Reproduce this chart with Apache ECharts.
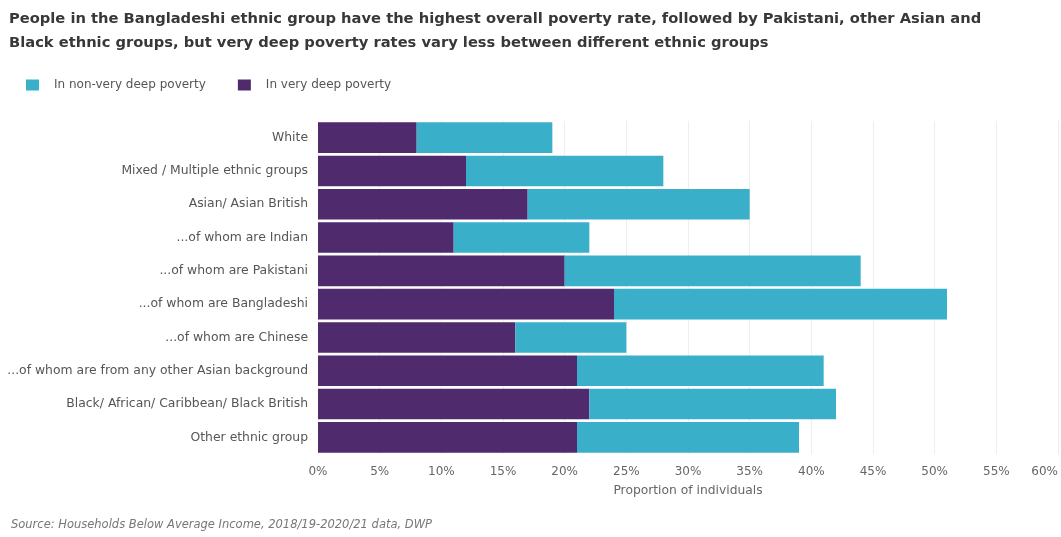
<!DOCTYPE html>
<html>
<head>
<meta charset="utf-8">
<script src="https://cdn.jsdelivr.net/npm/echarts@6/dist/echarts.min.js"></script>
<style>
html,body{margin:0;padding:0;background:#fff;}
#c{width:1061px;height:537px;}
</style>
</head>
<body>
<div id="c"></div>
<script>
const categories = [
  "White",
  "Mixed / Multiple ethnic groups",
  "Asian/ Asian British",
  "...of whom are Indian",
  "...of whom are Pakistani",
  "...of whom are Bangladeshi",
  "...of whom are Chinese",
  "...of whom are from any other Asian background",
  "Black/ African/ Caribbean/ Black British",
  "Other ethnic group"
];
const veryDeep = [8, 12, 17, 11, 20, 24, 16, 21, 22, 21];
const nonVeryDeep = [11, 16, 18, 11, 24, 27, 9, 20, 20, 18];
const titleText = "People in the Bangladeshi ethnic group have the highest overall poverty rate, followed by Pakistani, other Asian and\nBlack ethnic groups, but very deep poverty rates vary less between different ethnic groups";
const sourceText = "Source: Households Below Average Income, 2018/19-2020/21 data, DWP";
const xAxisName = "Proportion of individuals";

const chart = echarts.init(document.getElementById('c'));
chart.setOption({
  animation: false,
  textStyle: { fontFamily: 'DejaVu Sans, sans-serif' },
  title: [{
    text: titleText,
    left: 4, top: 2,
    textStyle: { fontSize: 14.7, fontWeight: 'bold', color: '#383838', lineHeight: 24, fontFamily: 'DejaVu Sans' }
  }, {
    text: sourceText,
    left: 6, top: 514,
    textStyle: { fontSize: 11.5, fontWeight: 'normal', fontStyle: 'italic', color: '#777', fontFamily: 'DejaVu Sans' }
  }],
  legend: {
    left: 21, top: 74,
    itemWidth: 13, itemHeight: 11, itemGap: 32,
    icon: 'rect',
    textStyle: { fontSize: 12, color: '#555', padding: [0, 0, 0, 10], fontFamily: 'DejaVu Sans' },
    data: ['In non-very deep poverty', 'In very deep poverty']
  },
  grid: { left: 318, right: 0, top: 121, bottom: 83 },
  xAxis: {
    type: 'value', min: 0, max: 60, interval: 5,
    name: xAxisName, nameLocation: 'middle', nameGap: 31,
    nameTextStyle: { fontSize: 12.3, color: '#666', fontFamily: 'DejaVu Sans' },
    axisLine: { show: false }, axisTick: { show: false },
    axisLabel: { formatter: '{value}%', fontSize: 12, color: '#666', margin: 12, alignMaxLabel: 'right', fontFamily: 'DejaVu Sans' },
    splitLine: { lineStyle: { color: '#eeeeee' } }
  },
  yAxis: {
    type: 'category', data: categories, inverse: true,
    axisLine: { show: false }, axisTick: { show: false },
    axisLabel: { fontSize: 12.4, color: '#555', margin: 10, fontFamily: 'DejaVu Sans' }
  },
  series: [{
    name: 'In very deep poverty', type: 'bar', stack: 'p',
    data: veryDeep, barCategoryGap: '8%',
    itemStyle: { color: '#4f2a6c' }
  }, {
    name: 'In non-very deep poverty', type: 'bar', stack: 'p',
    data: nonVeryDeep, barCategoryGap: '8%',
    itemStyle: { color: '#39afc9' }
  }]
});
</script>
</body>
</html>
